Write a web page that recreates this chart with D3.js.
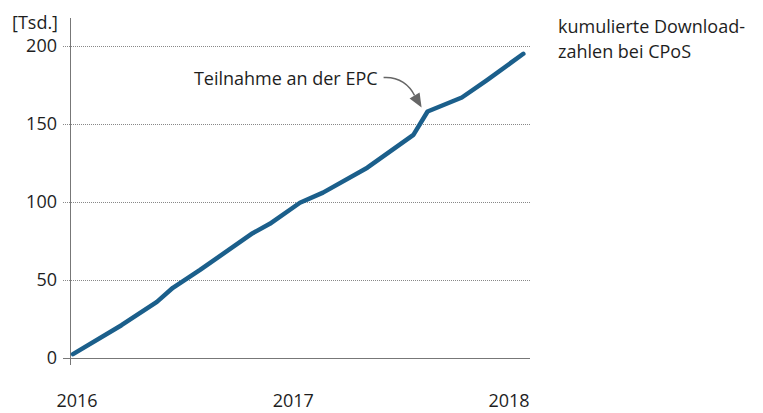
<!DOCTYPE html>
<html>
<head>
<meta charset="utf-8">
<script src="https://cdn.jsdelivr.net/npm/d3@7"></script>
<style>
  body { margin: 0; background: #fff; }
  svg text { font-family: "Open Sans", "Noto Sans", sans-serif; fill: #1e1e1e; }
</style>
</head>
<body>
<div id="chart"></div>
<script>
// Download-Zahlen (kumuliert, Tsd.)
const dates = [
  "2016-01-01", "2016-03-23", "2016-05-22", "2016-06-18", "2016-08-03",
  "2016-10-31", "2016-11-29", "2017-01-19", "2017-02-27", "2017-05-13",
  "2017-07-30", "2017-08-23", "2017-10-20", "2017-12-01", "2018-02-01",
];
const downloads = [2.5, 21, 36, 45, 56.5, 80, 86, 99.5, 106, 122, 143, 158, 167, 178, 195];

const yTicks = [0, 50, 100, 150, 200];
const xTicks = ["2016-01-01", "2017-01-01", "2018-01-01"];
const xTickLabels = ["2016", "2017", "2018"];

const epcDate = "2017-08-23";
const epcValue = 158;
const epcLabel = "Teilnahme an der EPC";
const unitLabel = "[Tsd.]";
const titleLines = ["kumulierte Download-", "zahlen bei CPoS"];

const width = 763;
const height = 413;
const parse = d3.timeParse("%Y-%m-%d");

const data = dates.map((d, i) => ({ date: parse(d), value: downloads[i] }));

const svg = d3
  .select("#chart")
  .append("svg")
  .attr("width", width)
  .attr("height", height);

const x = d3
  .scaleTime()
  .domain([parse("2016-01-01"), parse("2018-01-01")])
  .range([73, 505]);

const y = d3.scaleLinear().domain([0, 200]).range([358, 46]);

const axisLeftX = 70;
const axisRightX = 530;
const fontSize = "18px";

// Gitterlinien (gepunktet)
svg
  .selectAll(".grid")
  .data(yTicks.filter((t) => t > 0))
  .enter()
  .append("line")
  .attr("x1", 63)
  .attr("x2", axisRightX)
  .attr("y1", (d) => y(d) + 0.5)
  .attr("y2", (d) => y(d) + 0.5)
  .attr("stroke", "#888")
  .attr("stroke-width", 1)
  .attr("stroke-dasharray", "1,1");

// y-Achse
svg
  .append("line")
  .attr("x1", axisLeftX + 0.5)
  .attr("x2", axisLeftX + 0.5)
  .attr("y1", 18)
  .attr("y2", 365)
  .attr("stroke", "#777");

// x-Achse
svg
  .append("line")
  .attr("x1", 63)
  .attr("x2", axisRightX)
  .attr("y1", y(0) + 0.5)
  .attr("y2", y(0) + 0.5)
  .attr("stroke", "#777");

// y-Beschriftung
svg
  .selectAll(".ytick")
  .data(yTicks)
  .enter()
  .append("text")
  .attr("x", 57)
  .attr("y", (d) => y(d))
  .attr("dy", "0.36em")
  .attr("text-anchor", "end")
  .style("font-size", fontSize)
  .text((d) => d);

// x-Beschriftung
svg
  .selectAll(".xtick")
  .data(xTicks)
  .enter()
  .append("text")
  .attr("x", (d) => x(parse(d)) + 4)
  .attr("y", 407)
  .attr("text-anchor", "middle")
  .style("font-size", fontSize)
  .text((d, i) => xTickLabels[i]);

svg
  .append("text")
  .attr("x", 12)
  .attr("y", 29)
  .style("font-size", fontSize)
  .text(unitLabel);

// Linie
const line = d3
  .line()
  .x((d) => x(d.date))
  .y((d) => y(d.value));

svg
  .append("path")
  .datum(data)
  .attr("fill", "none")
  .attr("stroke", "#1b5f8b")
  .attr("stroke-width", 4.5)
  .attr("stroke-linejoin", "round")
  .attr("stroke-linecap", "round")
  .attr("d", line);

// Annotation
const tx = x(parse(epcDate)) - 6;
const ty = y(epcValue) - 4;

svg
  .append("path")
  .attr(
    "d",
    `M${tx - 38},${ty - 30} C${tx - 22},${ty - 31} ${tx - 12},${ty - 22} ${tx - 7},${ty - 12}`
  )
  .attr("fill", "none")
  .attr("stroke", "#666")
  .attr("stroke-width", 1.5);

svg
  .append("path")
  .attr("d", `M${tx},${ty} L${tx - 12},${ty - 9} L${tx - 2},${ty - 15} Z`)
  .attr("fill", "#666");

svg
  .append("text")
  .attr("x", tx - 44)
  .attr("y", ty - 23)
  .attr("text-anchor", "end")
  .style("font-size", fontSize)
  .text(epcLabel);

// Titel rechts
svg
  .append("text")
  .attr("x", 558)
  .attr("y", 33)
  .style("font-size", fontSize)
  .selectAll("tspan")
  .data(titleLines)
  .enter()
  .append("tspan")
  .attr("x", 558)
  .attr("dy", (d, i) => (i === 0 ? 0 : 25))
  .text((d) => d);
</script>
</body>
</html>
